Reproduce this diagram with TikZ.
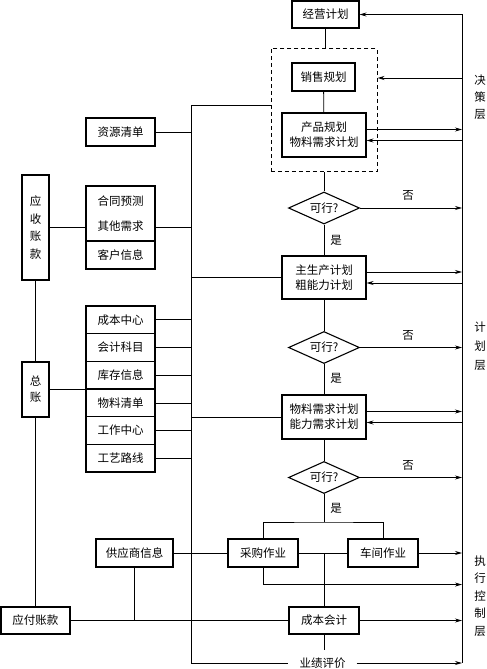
\documentclass[tikz,border=0pt]{standalone}
\usepackage{fontspec}
\setmainfont{Noto Sans CJK SC}
\usepackage{tikz}
\usetikzlibrary{arrows.meta, positioning, shapes.geometric, fit, calc}
\newcommand{\cnsize}{\fontsize{11.5pt}{15pt}\selectfont}

\begin{document}
\begin{tikzpicture}[
        x=1pt, y=-1pt,
        box/.style={draw, line width=1.1pt, inner sep=0pt, align=center, font=\cnsize, minimum width=69pt, minimum height=28pt},
        wide/.style={box, minimum width=84pt, minimum height=44pt},
        tall/.style={box, minimum width=27pt},
        test/.style={diamond, draw, line width=1.1pt, inner sep=0pt, aspect=2.2, minimum width=71pt, minimum height=32pt, font=\cnsize},
        group/.style={draw, line width=0.9pt, dash pattern=on 4pt off 3pt},
        conn/.style={line width=0.8pt},
        arr/.style={conn, -{Stealth[length=7pt, width=4pt]}},
        lbl/.style={font=\cnsize, inner sep=0pt},
        side/.style={font=\cnsize, align=center, inner sep=0pt}
    ]
        \useasboundingbox (0,0) rectangle (487,669);

        % Decision level
        \node[box, minimum width=67pt, minimum height=27pt] (plan) at (325.5,14.5) {经营计划};
        \node[box, minimum width=63pt] (sales) at (323.5,77) {销售规划};
        \node[wide] (prod) at (324,135) {产品规划\\物料需求计划};
        \node[group, fit=(sales)(prod), inner xsep=10.5pt, inner ysep=14pt] (grp) {};

        % Planning level
        \node[test] (ok1) at (324,208) {可行?};
        \node[wide, minimum height=43pt] (mps) at (324,277.5) {主生产计划\\粗能力计划};
        \node[test] (ok2) at (324,347.5) {可行?};
        \node[wide] (mrp) at (324,417) {物料需求计划\\能力需求计划};
        \node[test] (ok3) at (324,477.5) {可行?};

        % Execution level
        \node[box, minimum width=70pt] (buy) at (263,553) {采购作业};
        \node[box, minimum width=70pt] (shop) at (383,553) {车间作业};
        \node[box, minimum width=77pt] (supp) at (134.5,553) {供应商信息};
        \node[box, minimum width=70pt, minimum height=27pt] (cost) at (324,620.5) {成本会计};
        \node[box, minimum height=27pt] (pay) at (35.5,620.5) {应付账款};
        \node[lbl, minimum width=68pt, minimum height=26pt] (perf) at (322.5,663) {业绩评价};

        % Data on the left
        \node[box] (res) at (120.5,132) {资源清单};
        \node[tall, minimum height=105pt] (ar) at (35.5,227.5) {应\\[2.7pt]收\\[2.7pt]账\\[2.7pt]款};
        \node[box, minimum height=55pt] (cont) at (120.5,213.5) {合同预测\\[10pt]其他需求};
        \node[box] (cust) at (120.5,255) {客户信息};
        \node[box, minimum height=27.67pt] (cc) at (120.5,319.8) {成本中心};
        \node[box, minimum height=27.67pt] (acc) at (120.5,347.5) {会计科目};
        \node[box, minimum height=27.67pt] (inv) at (120.5,375.2) {库存信息};
        \node[box, minimum height=27.67pt] (bom) at (120.5,402.9) {物料清单};
        \node[box, minimum height=27.67pt] (wc) at (120.5,430.5) {工作中心};
        \node[box, minimum height=27.67pt] (rout) at (120.5,458.2) {工艺路线};
        \node[tall, minimum height=55pt] (gl) at (35.5,389.5) {总\\[1pt]账};

        % Levels
        \node[side] (dec) at (480,97) {决\\[2pt]策\\[2pt]层};
        \node[side] (pln) at (480,346) {计\\[4pt]划\\[4pt]层};
        \node[side] (exe) at (480,596) {执\\[2.5pt]行\\[2.5pt]控\\[2.5pt]制\\[2.5pt]层};

        % Rails
        \coordinate (railT) at (462,14.5);
        \coordinate (railB) at (462,663);
        \coordinate (busT) at (191,105);
        \coordinate (busB) at (191,663);
        \coordinate (fork) at (324,522);
        \draw[conn] (railT) -- (railB);
        \draw[conn] (busT) -- (busB);
        \draw[conn] (busT) -- (busT -| grp.west);

        % Feedback to the right rail
        \draw[arr] (railT) -- (plan.east |- railT);
        \draw[arr] ([yshift=-1pt]sales.east -| railT) -- ([yshift=-1pt]sales.east -| grp.east);
        \draw[arr] ([yshift=5.5pt]prod.east) -- ([yshift=5.5pt]prod.east -| railT);
        \draw[arr] ([yshift=-5.5pt]prod.east -| railT) -- ([yshift=-5.5pt]prod.east);
        \draw[arr] (ok1.east) -- (ok1.east -| railT);
        \draw[arr] ([yshift=5.5pt]mps.east) -- ([yshift=5.5pt]mps.east -| railT);
        \draw[arr] ([yshift=-5.5pt]mps.east -| railT) -- ([yshift=-5.5pt]mps.east);
        \draw[arr] (ok2.east) -- (ok2.east -| railT);
        \draw[arr] ([yshift=5.5pt]mrp.east) -- ([yshift=5.5pt]mrp.east -| railT);
        \draw[arr] ([yshift=-5.5pt]mrp.east -| railT) -- ([yshift=-5.5pt]mrp.east);
        \draw[arr] (ok3.east) -- (ok3.east -| railT);
        \draw[arr] (shop.east) -- (shop.east -| railT);
        \draw[arr] (buy.south) -- ++(0,17) coordinate (buyO) -- (buyO -| railT);
        \draw[arr] (cost.east) -- (cost.east -| railT);
        \draw[arr] (perf.east) -- (perf.east -| railT);

        % Main flow
        \draw[conn] (plan.south) -- (plan.south |- grp.north);
        \draw[conn] (sales) -- (prod);
        \draw[conn] (grp.south) -- (ok1.north);
        \draw[conn] (ok1) -- (mps);
        \draw[conn] (mps) -- (ok2);
        \draw[conn] (ok2) -- (mrp);
        \draw[conn] (mrp) -- (ok3);
        \draw[conn] (ok3.south) -- (fork);
        \draw[conn] (buy.north) |- (fork) -| (shop.north);
        \draw[conn] (supp) -- (buy);
        \draw[conn] (buy) -- (shop);
        \draw[conn] (cost.north |- buy.east) -- (cost.north);
        \draw[conn] (cost.south) -- (cost.south |- perf.north);
        \draw[conn] (pay) -- (cost);
        \draw[conn] (supp.south) -- (supp.south |- pay.east);

        % Data to the bus
        \draw[conn] (ar) -- (gl);
        \draw[conn] (gl) -- (pay);
        \draw[conn] (ar.east) -- (ar.east -| cont.west);
        \draw[conn] (cont.east |- ar.east) -- (busT |- ar.east);
        \draw[conn] (res.east) -- (res.east -| busT);
        \draw[conn] (gl.east) -- (gl.east -| inv.west);
        \draw[conn] (cc.east) -- (cc.east -| busT);
        \draw[conn] (acc.east) -- (acc.east -| busT);
        \draw[conn] (inv.east) -- (inv.east -| busT);
        \draw[conn] (bom.east) -- (bom.east -| busT);
        \draw[conn] (wc.east) -- (wc.east -| busT);
        \draw[conn] (rout.east) -- (rout.east -| busT);
        \draw[conn] (busT |- mps.west) -- (mps.west);
        \draw[conn] (busT |- mrp.west) -- (mrp.west);
        \draw[conn] (busT |- perf.west) -- (perf.west);

        % Yes / no
        \node[lbl] (no1) at (408,195) {否};
        \node[lbl] (no2) at (408,335) {否};
        \node[lbl] (no3) at (408,465) {否};
        \node[lbl] (yes1) at (336,240) {是};
        \node[lbl] (yes2) at (336,378) {是};
        \node[lbl] (yes3) at (336,508) {是};
\end{tikzpicture}
\end{document}
